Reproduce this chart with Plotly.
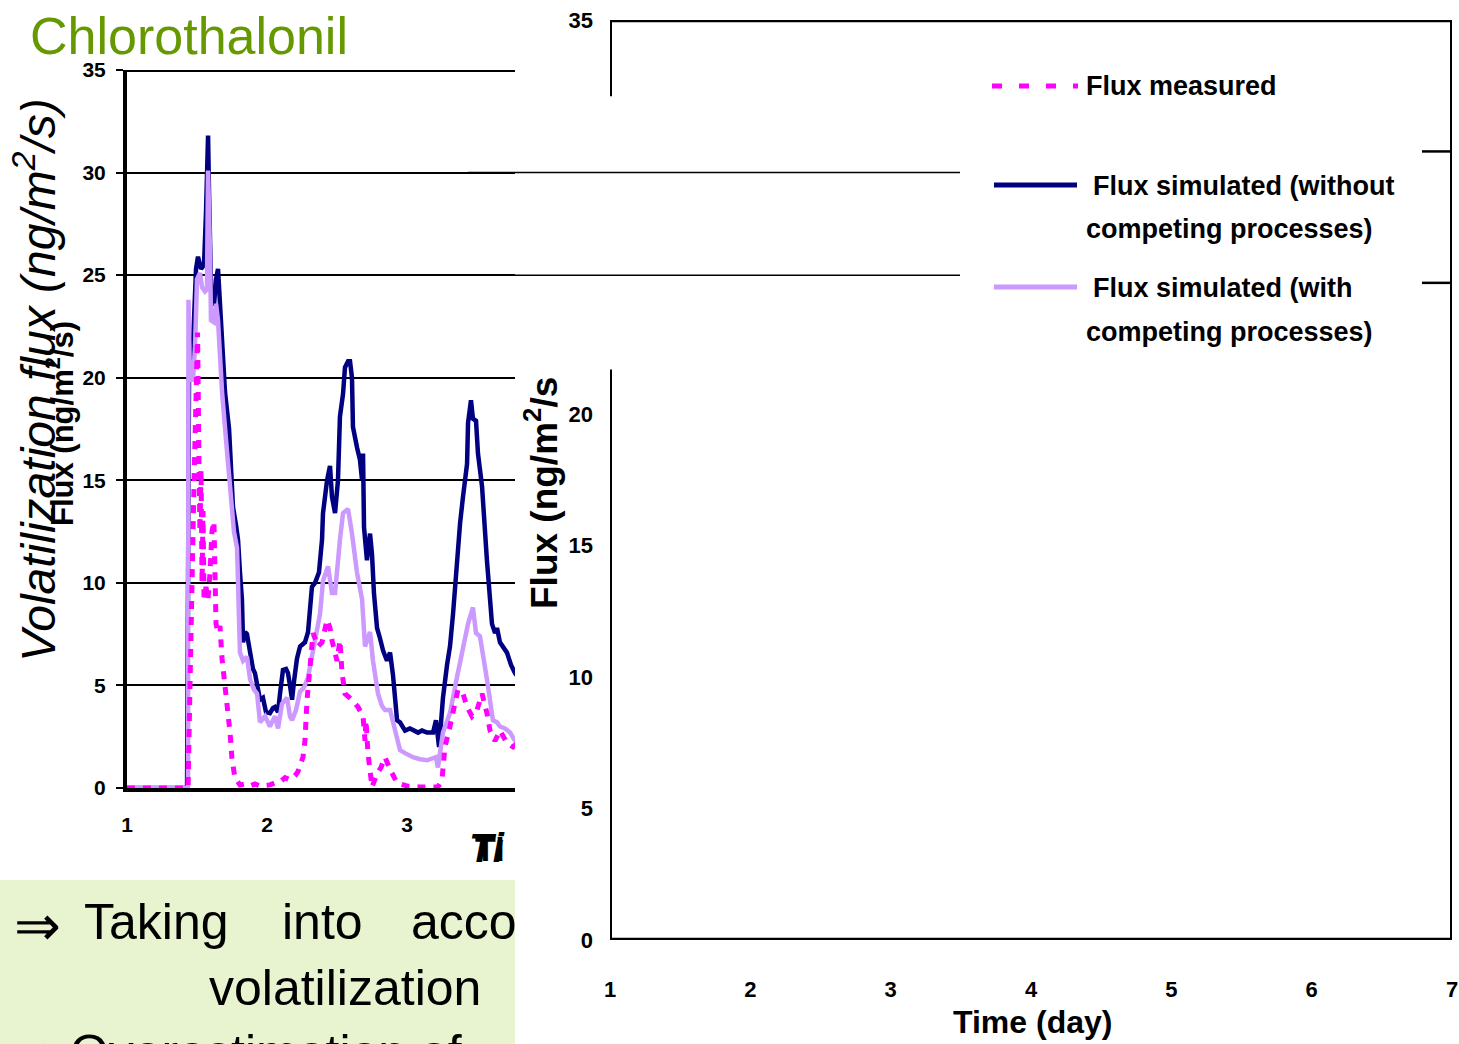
import plotly.graph_objects as go

W, H = 1459, 1044

# ---------------- data (time in days, flux in ng/m2/s) ----------------
sim_without_day = [1.000, 1.429, 1.443, 1.471, 1.493, 1.507, 1.529, 1.550, 1.564, 1.579, 1.586, 1.600,
                   1.621, 1.636, 1.650, 1.664, 1.686, 1.700, 1.729, 1.743, 1.757, 1.779, 1.793, 1.807,
                   1.821, 1.829, 1.843, 1.857, 1.879, 1.900, 1.914, 1.936, 1.950, 1.971, 1.993, 2.021,
                   2.043, 2.057, 2.079, 2.093, 2.114, 2.136, 2.150, 2.164, 2.179, 2.193, 2.214, 2.236,
                   2.271, 2.293, 2.321, 2.343, 2.371, 2.393, 2.400, 2.429, 2.450, 2.464, 2.486, 2.507,
                   2.521, 2.543, 2.557, 2.579, 2.593, 2.607, 2.614, 2.643, 2.664, 2.679, 2.686, 2.693,
                   2.714, 2.736, 2.750, 2.764, 2.786, 2.807, 2.829, 2.857, 2.879, 2.900, 2.929, 2.950,
                   2.986, 3.021, 3.043, 3.079, 3.107, 3.143, 3.186, 3.207, 3.229, 3.257, 3.286, 3.307,
                   3.329, 3.357, 3.379, 3.400, 3.429, 3.436, 3.457, 3.471, 3.493, 3.507, 3.536, 3.571,
                   3.593, 3.607, 3.629, 3.643, 3.664, 3.686, 3.714, 3.743, 3.771, 3.843, 3.986]
sim_without_flux = [0.0, 0.0, 20.0, 21.5, 25.3, 25.9, 25.3, 25.5, 28.0, 31.8, 29.0, 24.5,
                    23.5, 24.8, 25.3, 23.4, 21.0, 19.3, 17.5, 16.0, 13.7, 12.8, 12.1, 10.5,
                    9.2, 7.1, 7.6, 7.5, 6.5, 5.8, 5.6, 4.7, 4.3, 4.4, 3.7, 3.65,
                    3.9, 3.95, 3.7, 4.6, 5.75, 5.8, 5.6, 5.0, 4.3, 5.2, 6.3, 6.9,
                    7.1, 7.6, 9.8, 10.0, 10.5, 12.1, 13.4, 15.0, 15.7, 14.2, 13.4, 15.0,
                    18.1, 19.2, 20.5, 20.8, 20.8, 20.0, 17.6, 16.6, 16.0, 15.0, 16.3, 12.7,
                    11.1, 12.4, 11.4, 9.5, 7.8, 7.3, 6.7, 6.2, 6.6, 5.5, 3.3, 3.2,
                    2.8, 2.9, 2.8, 2.7, 2.8, 2.7, 2.7, 3.3, 2.0, 4.4, 6.0, 6.9,
                    8.5, 11.4, 12.9, 14.2, 15.8, 17.8, 18.9, 18.0, 17.9, 16.3, 14.7, 11.1,
                    8.8, 8.0, 7.55, 7.8, 7.1, 6.9, 6.6, 6.0, 5.6, 5.0, 4.4]

sim_with_day = [1.000, 1.436, 1.439, 1.450, 1.471, 1.486, 1.500, 1.521, 1.536, 1.557, 1.571, 1.579,
                1.593, 1.600, 1.621, 1.636, 1.650, 1.679, 1.707, 1.736, 1.764, 1.786, 1.807, 1.829,
                1.857, 1.879, 1.907, 1.929, 1.950, 1.986, 2.021, 2.057, 2.079, 2.107, 2.143, 2.164,
                2.179, 2.207, 2.236, 2.264, 2.293, 2.329, 2.357, 2.379, 2.400, 2.421, 2.436, 2.464,
                2.486, 2.521, 2.543, 2.579, 2.607, 2.643, 2.679, 2.700, 2.721, 2.736, 2.757, 2.793,
                2.821, 2.843, 2.879, 2.907, 2.929, 2.950, 2.986, 3.043, 3.093, 3.143, 3.207, 3.221,
                3.257, 3.307, 3.357, 3.400, 3.436, 3.471, 3.493, 3.521, 3.550, 3.571, 3.614, 3.643,
                3.664, 3.700, 3.736, 3.771, 3.843, 3.986]
sim_with_flux = [0.0, 0.0, 23.8, 19.9, 19.9, 21.5, 24.8, 25.1, 24.4, 24.2, 24.3, 30.1,
                 26.1, 22.8, 22.7, 23.6, 22.8, 19.3, 17.0, 14.5, 12.5, 11.7, 6.6, 6.2,
                 6.4, 5.3, 4.8, 4.6, 3.2, 3.5, 3.0, 3.5, 2.9, 4.1, 4.4, 3.5,
                 3.3, 3.8, 4.7, 4.9, 5.4, 6.7, 7.8, 8.5, 10.1, 10.6, 10.8, 9.5,
                 9.5, 12.1, 13.4, 13.6, 12.4, 10.5, 9.2, 6.9, 7.4, 7.6, 6.2, 4.6,
                 4.0, 3.8, 3.8, 3.0, 2.3, 1.85, 1.7, 1.5, 1.4, 1.35, 1.5, 1.0,
                 2.7, 3.65, 5.4, 6.9, 8.0, 8.8, 7.55, 7.4, 6.3, 5.3, 3.3, 3.2,
                 3.0, 2.9, 2.7, 2.3, 2.1, 1.8]

measured_day = [1.000, 1.436, 1.450, 1.464, 1.479, 1.493, 1.504, 1.514, 1.521, 1.529, 1.536, 1.543,
                1.550, 1.564, 1.579, 1.593, 1.607, 1.621, 1.629, 1.636, 1.650, 1.664, 1.679, 1.700,
                1.721, 1.736, 1.750, 1.771, 1.807, 1.843, 1.879, 1.914, 1.950, 2.021, 2.057, 2.093,
                2.129, 2.164, 2.200, 2.221, 2.257, 2.271, 2.286, 2.293, 2.307, 2.329, 2.364, 2.393,
                2.429, 2.450, 2.464, 2.500, 2.521, 2.536, 2.557, 2.607, 2.650, 2.686, 2.700, 2.707,
                2.721, 2.750, 2.786, 2.814, 2.843, 2.879, 2.929, 3.000, 3.093, 3.221, 3.250, 3.271,
                3.307, 3.343, 3.364, 3.400, 3.429, 3.464, 3.500, 3.536, 3.571, 3.593, 3.629, 3.664,
                3.714, 3.757, 3.843, 3.986]
measured_flux = [0.0, 0.0, 5.0, 11.0, 15.0, 19.0, 22.2, 16.0, 12.5, 15.5, 10.0, 13.5,
                 9.3, 9.8, 9.2, 10.5, 12.5, 13.0, 10.5, 8.0, 7.6, 7.9, 6.3, 5.0,
                 4.1, 2.7, 1.4, 0.5, 0.15, 0.2, 0.1, 0.2, 0.1, 0.15, 0.25, 0.3,
                 0.5, 0.4, 0.6, 0.8, 1.5, 2.3, 4.3, 4.9, 6.2, 7.55, 6.9, 7.1,
                 8.2, 7.8, 7.2, 6.2, 7.2, 5.6, 4.6, 4.3, 3.95, 3.5, 2.3, 3.3,
                 1.7, 0.05, 0.7, 1.0, 1.5, 0.9, 0.25, 0.1, 0.05, 0.05, 0.4, 2.0,
                 3.0, 4.3, 4.8, 4.6, 3.95, 3.5, 3.8, 4.6, 3.65, 2.8, 2.3, 2.8,
                 2.2, 2.0, 2.5, 2.0]

left_y_ticks = [0, 5, 10, 15, 20, 25, 30, 35]
left_x_ticks = [1, 2, 3]
right_y_ticks = [0, 5, 10, 15, 20, 35]
right_x_ticks = [1, 2, 3, 4, 5, 6, 7]

legend_labels = ["Flux measured",
                 ["Flux simulated (without", "competing processes)"],
                 ["Flux simulated (with", "competing processes)"]]

# ---------------- styling ----------------
NAVY = "#000080"
LAVENDER = "#CC99FF"
MAGENTA = "#FF00FF"
GREEN_TITLE = "#669900"
BOX_GREEN = "#E8F3CF"
ARIAL = "Liberation Sans, Arial, sans-serif"


def px(x):
    return x / W


def py(y):
    return 1 - y / H


fig = go.Figure()

fig.add_trace(go.Scatter(x=sim_without_day, y=sim_without_flux, mode="lines",
                         line=dict(color=NAVY, width=4.5), xaxis="x", yaxis="y",
                         showlegend=False, name="Flux simulated (without competing processes)"))
fig.add_trace(go.Scatter(x=sim_with_day, y=sim_with_flux, mode="lines",
                         line=dict(color=LAVENDER, width=4.5), xaxis="x", yaxis="y",
                         showlegend=False, name="Flux simulated (with competing processes)"))
fig.add_trace(go.Scatter(x=measured_day, y=measured_flux, mode="lines",
                         line=dict(color=MAGENTA, width=5, dash="8px,8px"), xaxis="x", yaxis="y",
                         showlegend=False, name="Flux measured"))
# empty right-hand chart
fig.add_trace(go.Scatter(x=[None], y=[None], mode="lines", xaxis="x2", yaxis="y2", showlegend=False))

x_left_end = 1 + (515 - 127) / 140

fig.update_layout(
    template="none",
    width=W, height=H, autosize=False,
    margin=dict(l=0, r=0, t=0, b=0, pad=0),
    paper_bgcolor="white", plot_bgcolor="rgba(0,0,0,0)",
    font=dict(family=ARIAL, color="black"),
    showlegend=False,
    xaxis=dict(domain=[px(127), px(515)], range=[1, x_left_end], tickvals=left_x_ticks,
               showgrid=False, zeroline=False, showline=True, linecolor="black", linewidth=4,
               ticks="", ticklabelstandoff=15, automargin=False,
               tickfont=dict(family=ARIAL, size=21, weight="bold"), anchor="y"),
    yaxis=dict(domain=[py(788), py(70)], range=[0, 35], tickvals=left_y_ticks,
               showgrid=True, gridcolor="black", gridwidth=2, zeroline=False,
               showline=True, linecolor="black", linewidth=4, automargin=False,
               ticks="outside", ticklen=7, tickwidth=2, tickcolor="black", ticklabelstandoff=6,
               tickfont=dict(family=ARIAL, size=21, weight="bold"), anchor="x"),
    xaxis2=dict(domain=[px(610), px(1452)], range=[1, 7], tickvals=right_x_ticks,
                showgrid=False, zeroline=False, showline=False, ticks="", ticklabelstandoff=34,
                automargin=False,
                tickfont=dict(family=ARIAL, size=22, weight="bold"), anchor="y2"),
    yaxis2=dict(domain=[py(940), py(20)], range=[0, 35], tickvals=right_y_ticks,
                showgrid=False, zeroline=False, showline=False, ticks="", ticklabelstandoff=16,
                automargin=False,
                tickfont=dict(family=ARIAL, size=22, weight="bold"), anchor="x2"),
)

shapes = []
# slide green text box
shapes.append(dict(type="rect", xref="paper", yref="paper", x0=0, x1=px(515), y0=0, y1=py(880),
                   fillcolor=BOX_GREEN, line=dict(width=0), layer="below"))
# left chart top border
shapes.append(dict(type="line", xref="paper", yref="y", x0=px(127), x1=px(515), y0=35, y1=35,
                   line=dict(color="black", width=4)))
# left chart gridlines 25 / 30 continuing across the overlay
for v in (25, 30):
    shapes.append(dict(type="line", xref="paper", yref="y", x0=px(468), x1=px(960), y0=v, y1=v,
                       line=dict(color="black", width=1.5)))
# right chart frame
shapes += [
    dict(type="line", xref="x2", yref="y2", x0=1, x1=7, y0=35, y1=35, line=dict(color="black", width=4.5)),
    dict(type="line", xref="x2", yref="y2", x0=1, x1=7, y0=0, y1=0, line=dict(color="black", width=4.5)),
    dict(type="line", xref="x2", yref="y2", x0=7, x1=7, y0=0, y1=35, line=dict(color="black", width=4)),
    dict(type="line", xref="x2", yref="y2", x0=1, x1=1, y0=0, y1=21.7, line=dict(color="black", width=4)),
    dict(type="line", xref="x2", yref="y2", x0=1, x1=1, y0=32.1, y1=35, line=dict(color="black", width=4)),
]
for v in (25, 30):
    shapes.append(dict(type="line", xref="x2 domain", yref="y2", x0=(1422 - 610) / 842, x1=1,
                       y0=v, y1=v, line=dict(color="black", width=2.5)))
# legend samples
shapes += [
    dict(type="line", xref="paper", yref="paper", x0=px(992), x1=px(1078), y0=py(86), y1=py(86),
         line=dict(color=MAGENTA, width=5, dash="10px,17px")),
    dict(type="line", xref="paper", yref="paper", x0=px(994), x1=px(1077), y0=py(185), y1=py(185),
         line=dict(color=NAVY, width=5)),
    dict(type="line", xref="paper", yref="paper", x0=px(994), x1=px(1077), y0=py(287), y1=py(287),
         line=dict(color=LAVENDER, width=5)),
]
fig.update_layout(shapes=shapes)

ann = []


def text(t, x, y, size, family=ARIAL, color="black", xanchor="left", yanchor="middle", angle=0,
         weight="normal", style="normal"):
    ann.append(dict(text=t, x=px(x), y=py(y), xref="paper", yref="paper", showarrow=False,
                    xanchor=xanchor, yanchor=yanchor, textangle=angle,
                    font=dict(family=family, size=size, color=color, weight=weight, style=style)))


text("Chlorothalonil", 28, 36, 52, color=GREEN_TITLE)
text("Volatilization flux (ng/m<sup>2</sup>/s)", 35, 380, 48, xanchor="center", angle=-90, style="italic")
text("Flux (ng/m<sup>2</sup>/s)", 60, 424, 31, xanchor="center", angle=-90, weight="bold")
text("Ti", 467, 848, 40, weight="bold", style="italic")
text("Ti", 473, 849, 34, weight="bold")

# right chart titles
text("Time (day)", 1032, 1022, 32, xanchor="center", weight="bold")
text("Flux (ng/m<sup>2</sup>/s", 541, 611, 37, xanchor="center", yanchor="bottom", angle=-90, weight="bold")

# legend texts
text(legend_labels[0], 1084, 86, 27, weight="bold")
text(legend_labels[1][0], 1091, 186, 27, weight="bold")
text(legend_labels[1][1], 1084, 229, 27, weight="bold")
text(legend_labels[2][0], 1091, 288, 27, weight="bold")
text(legend_labels[2][1], 1084, 332, 27, weight="bold")

# slide text in green box
text("⇒", 12, 925, 56)
text("Taking", 82, 922, 50)
text("into", 280, 922, 50)
text("acco", 409, 922, 50)
text("volatilization", 207, 988, 50)
text("⇒ Overestimation of", 12, 1053, 50)

fig.update_layout(annotations=ann)

fig.write_html("out.html",
               config={"displayModeBar": False},
               post_script="document.body.style.margin='0';document.body.style.overflow='hidden';")
